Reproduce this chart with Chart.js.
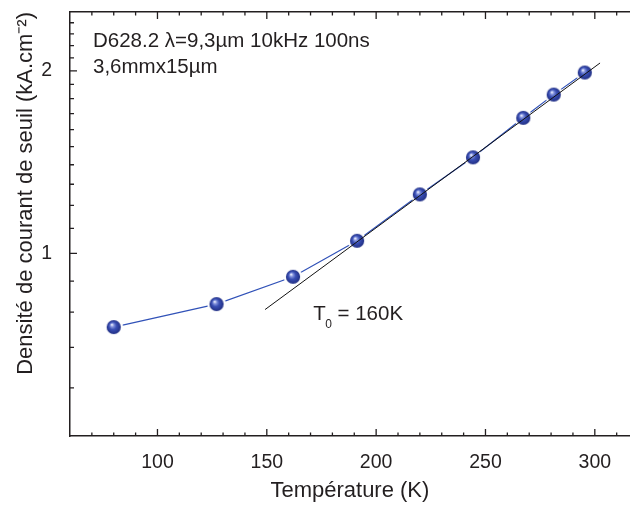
<!DOCTYPE html>
<html lang="fr">
<head>
<meta charset="utf-8">
<title>Densité de courant de seuil vs température</title>
<script src="https://cdn.jsdelivr.net/npm/chart.js"></script>
<style>
  body { margin: 0; background: #fff; }
  #wrap { width: 639px; height: 505px; }
</style>
</head>
<body>
<div id="wrap"><canvas id="myChart"></canvas></div>
<script>
const temperature = [80, 127, 162, 191.3, 220, 244.3, 267.3, 281.2, 295.4];
const densite = [0.756, 0.825, 0.915, 1.049, 1.251, 1.440, 1.673, 1.827, 1.987];

// droite d'ajustement (T0 = 160K)
const fitT = [149.2, 302.4];
const fitJ = [0.808, 2.06];

const xTicks = [100, 150, 200, 250, 300];
const yTicks = [1, 2];

const font = "'Liberation Sans', Arial, sans-serif";
const textColor = '#231f20';
const axisColor = '#231f20';

// bille bleue (marqueur)
function sphere() {
    const c = document.createElement('canvas');
    c.width = 20; c.height = 20;
    const g = c.getContext('2d');
    g.fillStyle = '#fff';
    g.beginPath(); g.arc(10, 10, 9.3, 0, Math.PI * 2); g.fill();
    const grad = g.createRadialGradient(8, 7.5, 0.3, 10, 10, 7.2);
    grad.addColorStop(0, '#f2f4ff');
    grad.addColorStop(0.22, '#8292dc');
    grad.addColorStop(0.5, '#3a4fb4');
    grad.addColorStop(1, '#1f2d82');
    g.fillStyle = grad;
    g.beginPath(); g.arc(10, 10, 7.1, 0, Math.PI * 2); g.fill();
    return c;
}

// pas de marge automatique autour des axes
function noPad(s) {
    s.paddingTop = 0; s.paddingBottom = 0;
    s.paddingLeft = 0; s.paddingRight = 0;
}

// graduations vers l'interieur
const innerTicks = {
    id: 'innerTicks',
    afterDraw(chart) {
        const {ctx, chartArea: a} = chart;
        const x = chart.scales.x, y = chart.scales.y;
        ctx.save();
        ctx.strokeStyle = axisColor;
        ctx.lineWidth = 1.3;
        ctx.beginPath();
        for (let v = 70; v <= 310; v += 10) {
            const px = x.getPixelForValue(v);
            const len = v % 50 === 0 ? 7 : 3.5;
            ctx.moveTo(px, a.bottom); ctx.lineTo(px, a.bottom - len);
            ctx.moveTo(px, a.top); ctx.lineTo(px, a.top + len);
        }
        for (let k = 6; k <= 24; k++) {
            const py = y.getPixelForValue(k / 10);
            const len = k % 10 === 0 ? 7 : 4;
            ctx.moveTo(a.left, py); ctx.lineTo(a.left + len, py);
        }
        ctx.stroke();
        ctx.restore();
    }
};

// textes
const notes = {
    id: 'notes',
    afterDraw(chart) {
        const {ctx, chartArea: a} = chart;
        const x = chart.scales.x, y = chart.scales.y;
        ctx.save();
        ctx.fillStyle = textColor;
        ctx.textBaseline = 'alphabetic';
        ctx.textAlign = 'left';
        ctx.font = '20.5px ' + font;
        ctx.fillText('D628.2 \u03bb=9,3\u00b5m 10kHz 100ns', a.left + 23, a.top + 35);
        ctx.fillText('3,6mmx15\u00b5m', a.left + 23, a.top + 61);

        let px = x.getPixelForValue(171.2);
        const py = y.getPixelForValue(0.776);
        ctx.fillText('T', px, py);
        px += ctx.measureText('T').width - 0.5;
        ctx.font = '12px ' + font;
        ctx.fillText('0', px, py + 8);
        px += ctx.measureText('0').width;
        ctx.font = '20.5px ' + font;
        ctx.fillText(' = 160K', px, py);
        ctx.restore();
    }
};

const ctx = document.getElementById('myChart');

new Chart(ctx, {
    type: 'scatter',
    data: {
        datasets: [{
            label: 'mesures',
            data: temperature.map((t, i) => ({x: t, y: densite[i]})),
            showLine: true,
            borderColor: '#3152b8',
            borderWidth: 1.2,
            pointStyle: sphere(),
            pointRadius: 8,
            order: 2
        }, {
            label: 'ajustement',
            data: fitT.map((t, i) => ({x: t, y: fitJ[i]})),
            showLine: true,
            borderColor: '#111',
            borderWidth: 1,
            pointRadius: 0,
            order: 1
        }]
    },
    options: {
        responsive: true,
        maintainAspectRatio: false,
        animation: false,
        layout: {padding: 0},
        plugins: {
            legend: {display: false},
            tooltip: {enabled: false}
        },
        scales: {
            x: {
                type: 'linear',
                position: 'bottom',
                min: 60,
                max: 316,
                afterBuildTicks: s => { s.ticks = xTicks.map(v => ({value: v})); },
                afterFit: s => { s.height = 69; noPad(s); },
                grid: {display: false},
                border: {display: true, color: axisColor, width: 1.5},
                ticks: {
                    color: textColor,
                    font: {family: font, size: 19.5},
                    padding: 7,
                    maxRotation: 0,
                    autoSkip: false
                },
                title: {
                    display: true,
                    text: 'Température (K)',
                    color: textColor,
                    font: {family: font, size: 22},
                    padding: {top: 0, bottom: 1}
                }
            },
            x2: {
                type: 'linear',
                position: 'top',
                min: 60,
                max: 316,
                afterFit: s => { s.height = 12; noPad(s); },
                grid: {display: false},
                border: {display: true, color: axisColor, width: 1.5},
                ticks: {display: false}
            },
            y: {
                type: 'logarithmic',
                position: 'left',
                min: 0.5,
                max: 2.5,
                afterBuildTicks: s => { s.ticks = yTicks.map(v => ({value: v})); },
                afterFit: s => { s.width = 70; noPad(s); },
                grid: {display: false},
                border: {display: true, color: axisColor, width: 1.5},
                ticks: {
                    color: textColor,
                    font: {family: font, size: 19.5},
                    padding: 10,
                    callback: v => String(v)
                },
                title: {
                    display: true,
                    text: 'Densité de courant de seuil (kA.cm\u207b\u00b2)',
                    align: 'end',
                    color: textColor,
                    font: {family: font, size: 22},
                    padding: {top: 13, bottom: 0}
                }
            }
        }
    },
    plugins: [innerTicks, notes]
});
</script>
</body>
</html>
